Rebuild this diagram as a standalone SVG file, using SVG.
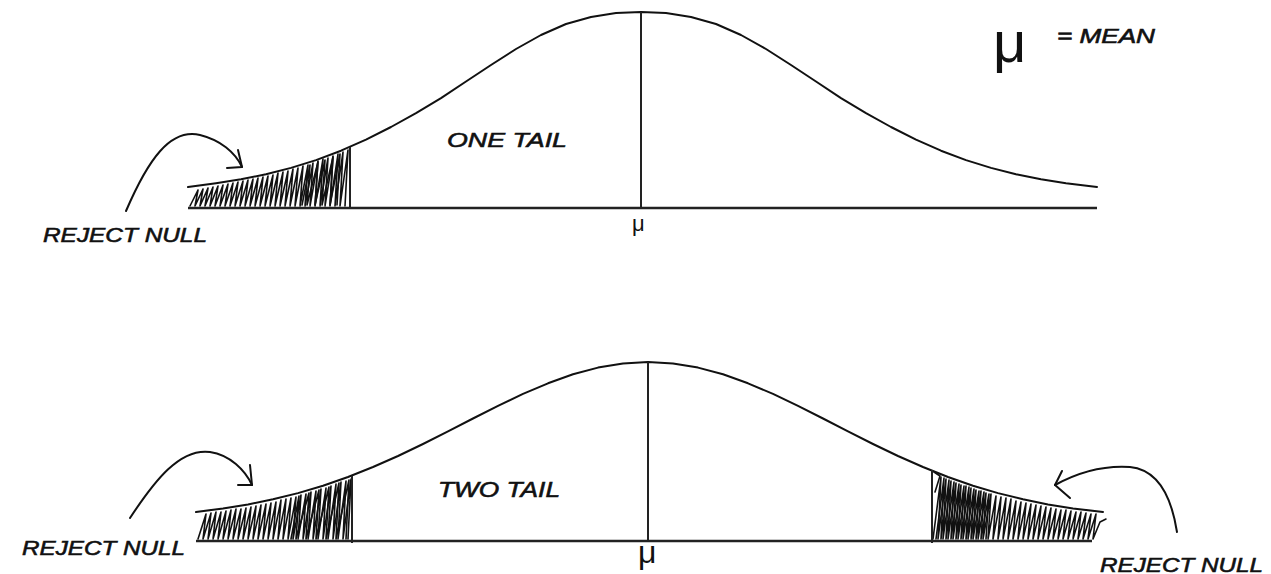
<svg xmlns="http://www.w3.org/2000/svg" width="1271" height="574" viewBox="0 0 1271 574">
<style>
.curve{fill:none;stroke:#111;stroke-width:2;stroke-linejoin:round;stroke-linecap:round}
.base{fill:none;stroke:#222;stroke-width:2.6}
.vline{fill:none;stroke:#222;stroke-width:2}
.hatch{fill:none;stroke:#111;stroke-width:1.6;stroke-linejoin:round;stroke-linecap:round}
.arrow{fill:none;stroke:#111;stroke-width:2;stroke-linecap:round;stroke-linejoin:round}
.lbl{font-family:"Liberation Sans",Arial,sans-serif;font-style:italic;fill:#111;stroke:#111;stroke-width:0.6}
.mu{font-family:"Liberation Sans",Arial,sans-serif;fill:#111}
</style>
<rect width="1271" height="574" fill="#fff"/>

<g id="chart-one-tail">
<path class="hatch" d="M190,206 L198,190 L195,206 L203,189 L200,206 L208,188 L205,206 L213,187 L210,206 L218,186 L215,206 L223,185 L220,206 L228,184 L225,206 L233,183 L230,206 L238,182 L235,206 L243,181 L240,206 L248,180 L245,206 L253,179 L250,206 L258,178 L255,206 L263,177 L260,206 L268,176 L265,206 L273,175 L270,206 L278,173 L275,206 L283,172 L280,206 L288,171 L285,206 L293,169 L290,206 L298,168 L295,206 L303,166 L300,206 L308,165 L305,206 L313,163 L310,206 L318,161 L315,206 L323,159 L320,206 L328,158 L325,206 L333,156 L330,206 L338,154 L335,206 L343,152 L340,206 L348,150 L345,206"/>
<path class="hatch" d="M302,205 L310,165 L307,205 L318,162 L315,205 L325,160 L322,205 L333,157 L330,205 L340,154 L337,205"/>
<polyline class="curve" points="188,187 216,183.2 241,179.3 266,174.3 291,167.9 316,160.1 341,150.7 366,139.6 391,127 416,113.1 441,98.1 466,81.5 491,65 516,49 541,35 566,24 591,17 616,13 641,12 666,13 691,17 716,24 741,35 766,49 791,65 816,81.5 841,98.1 866,113.1 891,127 916,139.6 941,150.7 966,160.1 991,167.9 1016,174.3 1041,179.3 1066,183.2 1097,187"/>
<line class="base" x1="188" y1="208" x2="1097" y2="208"/>
<line class="vline" x1="350" y1="147" x2="350" y2="208"/>
<line class="vline" x1="641" y1="12" x2="641" y2="208"/>
<text class="lbl" x="447" y="147" font-size="21" textLength="120" lengthAdjust="spacingAndGlyphs">ONE TAIL</text>
<text class="mu" x="632" y="231" font-size="22">μ</text>
</g>

<g id="chart-two-tail">
<path class="hatch" d="M198,539 L206,514 L203,539 L211,513 L208,539 L216,512 L213,539 L221,512 L218,539 L226,511 L223,539 L231,510 L228,539 L236,509 L233,539 L241,509 L238,539 L246,508 L243,539 L251,507 L248,539 L256,506 L253,539 L261,505 L258,539 L266,504 L263,539 L271,503 L268,539 L276,502 L273,539 L281,500 L278,539 L286,499 L283,539 L291,498 L288,539 L296,497 L293,539 L301,495 L298,539 L306,494 L303,539 L311,492 L308,539 L316,491 L313,539 L321,489 L318,539 L326,488 L323,539 L331,486 L328,539 L336,484 L333,539 L341,482 L338,539 L346,481 L343,539 L351,479 L348,539"/>
<path class="hatch" d="M291,539 L299,496 L296,539 L309,493 L306,539 L319,490 L316,539 L329,487 L326,539 L339,483 L336,539 L349,480 L346,539"/>
<path class="hatch" d="M933,539 L941,477 L938,539 L946,479 L943,539 L951,481 L948,539 L956,483 L953,539 L961,485 L958,539 L966,486 L963,539 L971,488 L968,539 L976,490 L973,539 L981,491 L978,539 L986,493 L983,539 L991,494 L988,539 L996,496 L993,539 L1001,497 L998,539 L1006,498 L1003,539 L1011,499 L1008,539 L1016,501 L1013,539 L1021,502 L1018,539 L1026,503 L1023,539 L1031,504 L1028,539 L1036,505 L1033,539 L1041,506 L1038,539 L1046,507 L1043,539 L1051,508 L1048,539 L1056,509 L1053,539 L1061,510 L1058,539 L1066,510 L1063,539 L1071,511 L1068,539 L1076,512 L1073,539 L1081,512 L1078,539 L1086,513 L1083,539 L1091,514 L1088,539 L1096,514 L1093,539 L1100,522 L1106,519"/>
<path class="hatch" d="M936,539 L944,478 L941,539 L949,480 L946,539 L954,482 L951,539 L959,484 L956,539 L964,486 L961,539 L969,487 L966,539 L974,489 L971,539 L979,491 L976,539 L984,492 L981,539 L989,494 L986,539"/>
<path class="hatch" d="M934,472 L940,476 L935,492"/>
<polyline class="curve" points="196,512 223,508.4 248,504.4 273,499.3 298,493.1 323,485.7 348,477 373,467 398,456 423,444 448,431.4 473,418.5 498,405.9 523,393.9 548,383.3 573,374.3 598,367.6 623,363.4 648,362 673,363.4 698,367.6 723,374.3 748,383.3 773,393.9 798,405.9 823,418.5 848,431.4 873,444 898,456 923,467 948,477 973,485.7 998,493.1 1023,499.3 1048,504.4 1073,508.4 1103,512"/>
<line class="base" x1="196" y1="541" x2="1092" y2="541"/>
<line class="vline" x1="352" y1="476" x2="352" y2="543"/>
<line class="vline" x1="932" y1="470" x2="932" y2="543"/>
<line class="vline" x1="648" y1="362" x2="648" y2="541"/>
<text class="lbl" x="438" y="497" font-size="22" textLength="122" lengthAdjust="spacingAndGlyphs">TWO TAIL</text>
<text class="mu" x="638" y="563" font-size="32">μ</text>
</g>

<g id="legend">
<text class="mu" x="993" y="62" font-size="58">μ</text>
<text class="lbl" x="1057" y="43" font-size="20" textLength="98" lengthAdjust="spacingAndGlyphs">= MEAN</text>
</g>

<g id="label-reject-top">
<text class="lbl" x="43" y="242" font-size="21" textLength="164" lengthAdjust="spacingAndGlyphs">REJECT NULL</text>
</g>
<g id="label-reject-bottom-left">
<text class="lbl" x="22" y="555" font-size="21" textLength="163" lengthAdjust="spacingAndGlyphs">REJECT NULL</text>
</g>
<g id="label-reject-bottom-right">
<text class="lbl" x="1100" y="572" font-size="21" textLength="163" lengthAdjust="spacingAndGlyphs">REJECT NULL</text>
</g>

<g id="connectors">
<path class="arrow" d="M126,211 C148,160 170,128 200,135 C220,140 235,152 242,167"/>
<path class="arrow" d="M238,150 L242,167 L227,168"/>
<path class="arrow" d="M130,518 C155,480 180,448 210,452 C230,455 245,470 252,485"/>
<path class="arrow" d="M250,465 L252,485 L238,485"/>
<path class="arrow" d="M1177,532 C1172,500 1160,470 1130,467 C1100,465 1075,474 1055,485"/>
<path class="arrow" d="M1062,471 L1055,485 L1070,498"/>
</g>
</svg>
